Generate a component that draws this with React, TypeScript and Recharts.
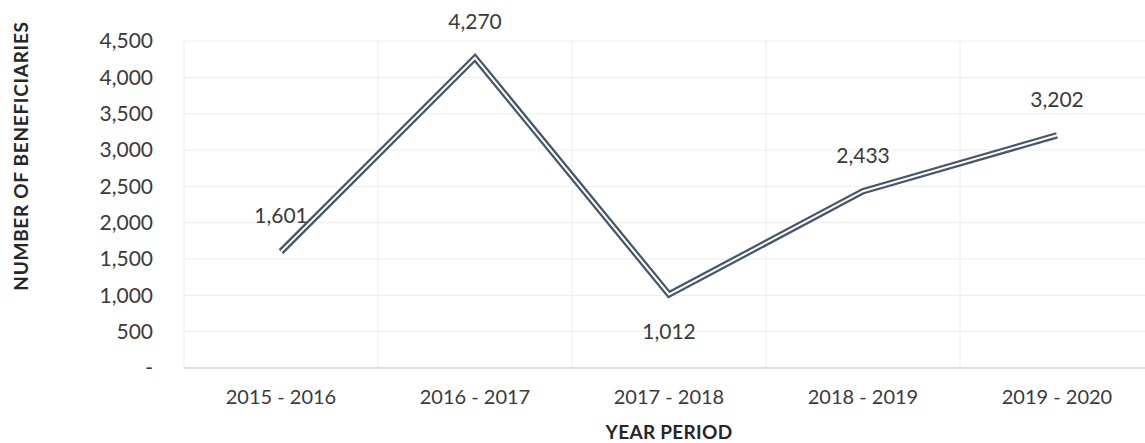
import React from 'react';
import {
  LineChart,
  Line,
  XAxis,
  YAxis,
  CartesianGrid,
  LabelList,
} from 'recharts';

const periods = ['2015 - 2016', '2016 - 2017', '2017 - 2018', '2018 - 2019', '2019 - 2020'];
const beneficiaries = [1601, 4270, 1012, 2433, 3202];
const yTicks = [0, 500, 1000, 1500, 2000, 2500, 3000, 3500, 4000, 4500];

const data = periods.map((period, idx) => ({ idx, period, value: beneficiaries[idx] }));
const xTicks = periods.map((_, i) => i);
const gridTicks = [-0.5, ...periods.map((_, i) => i + 0.5)];

const FONT = 'Lato, "Open Sans", sans-serif';
const TEXT = '#3a3a3a';
const LINE = '#46566b';

const fmt = (v: number) => (v === 0 ? '-' : v.toLocaleString('en-US'));

const ValueLabel = (props: any) => {
  const { x, y, value, index } = props;
  const prev = beneficiaries[index - 1];
  const next = beneficiaries[index + 1];
  const isDip = prev !== undefined && next !== undefined && value < prev && value < next;
  return (
    <text
      x={x}
      y={isDip ? y + 36 : y - 37}
      textAnchor="middle"
      dominantBaseline="central"
      fill={TEXT}
      fontFamily={FONT}
      fontSize={21}
    >
      {fmt(value)}
    </text>
  );
};

export default function App() {
  return (
    <div
      style={{
        position: 'absolute',
        left: 0,
        top: 0,
        width: 1145,
        height: 443,
        overflow: 'hidden',
        background: '#fff',
      }}
    >
      <LineChart
        width={1160}
        height={443}
        data={data}
        margin={{ top: 41, right: 6, bottom: 0, left: 0 }}
      >
        <CartesianGrid stroke="#ececec" xAxisId="grid" />
        <XAxis
          xAxisId="grid"
          type="number"
          dataKey="idx"
          domain={[-0.5, 4.5]}
          ticks={gridTicks}
          hide
        />
        <XAxis
          type="number"
          dataKey="idx"
          domain={[-0.5, 4.5]}
          ticks={xTicks}
          tickFormatter={(i: number) => periods[i]}
          height={75}
          axisLine={{ stroke: '#d9d9d9', strokeWidth: 1.5 }}
          tickLine={false}
          tickSize={6}
          tickMargin={16}
          tick={{ fill: TEXT, fontFamily: FONT, fontSize: 20 }}
          interval={0}
        />
        <YAxis
          domain={[0, 4500]}
          ticks={yTicks}
          width={184}
          axisLine={false}
          tickLine={false}
          tickSize={6}
          tickMargin={25}
          tickFormatter={fmt}
          tick={{ fill: TEXT, fontFamily: FONT, fontSize: 21 }}
          interval={0}
        />
        <Line
          dataKey="value"
          stroke={LINE}
          strokeWidth={6.5}
          strokeLinejoin="miter"
          dot={false}
          activeDot={false}
          isAnimationActive={false}
        />
        <Line
          dataKey="value"
          stroke="#ffffff"
          strokeWidth={2}
          strokeLinejoin="miter"
          dot={false}
          activeDot={false}
          isAnimationActive={false}
        >
          <LabelList dataKey="value" content={ValueLabel} />
        </Line>
      </LineChart>
      <div
        style={{
          position: 'absolute',
          left: 20,
          top: 156,
          transform: 'translate(-50%, -50%) rotate(-90deg)',
          whiteSpace: 'nowrap',
          fontFamily: FONT,
          fontWeight: 700,
          fontSize: 19,
          letterSpacing: 0.7,
          color: '#262626',
        }}
      >
        NUMBER OF BENEFICIARIES
      </div>
      <div
        style={{
          position: 'absolute',
          left: 669,
          top: 431,
          transform: 'translate(-50%, -50%)',
          whiteSpace: 'nowrap',
          fontFamily: FONT,
          fontWeight: 700,
          fontSize: 19,
          letterSpacing: 0.3,
          color: '#262626',
        }}
      >
        YEAR PERIOD
      </div>
    </div>
  );
}
